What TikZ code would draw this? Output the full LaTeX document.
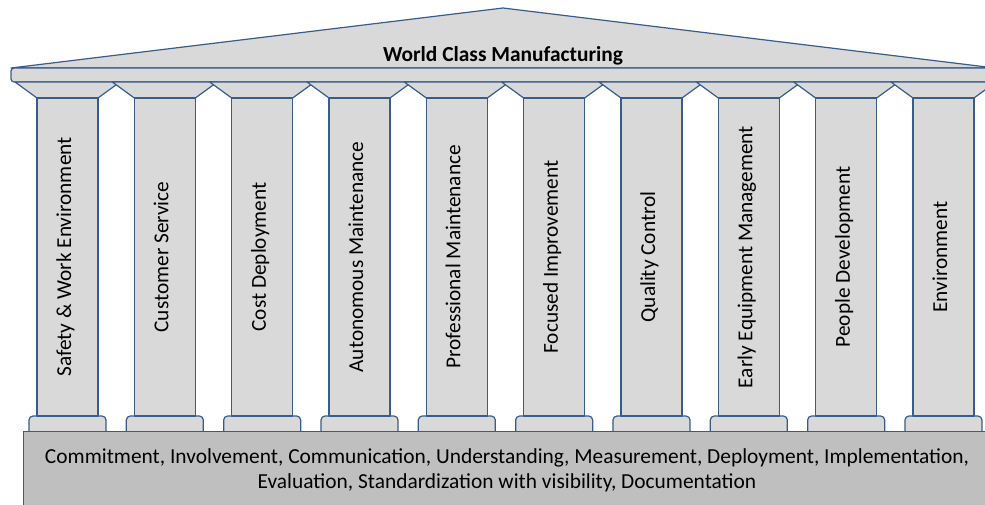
\documentclass[tikz,border=0pt]{standalone}
\usepackage{fontspec}
\setmainfont{Carlito}
\definecolor{edge}{RGB}{56,93,138}
\definecolor{lite}{RGB}{217,217,217}
\definecolor{dark}{RGB}{191,191,191}
\begin{document}
\begin{tikzpicture}[x=1pt,y=-1pt, line join=round,
  part/.style={draw=edge, fill=lite, line width=1.2pt},
  shaft/.style={part, rotate=90, minimum width=318pt, minimum height=61pt, inner sep=0pt,
    font=\fontsize{21.3}{24}\selectfont, text height=0.72em, text depth=0pt},
  plinth/.style={draw=edge, fill=dark, line width=1.2pt},
  basetext/.style={align=center, font=\fontsize{21.4}{25}\selectfont, inner sep=0pt}
  ]
\useasboundingbox (0,0) rectangle (985,504);
\clip (0,0) rectangle (985,504);
% roof
\path[part] (11,68) -- (503,8) -- (995,68) -- cycle;
\path[part, rounded corners=3pt] (11,68) rectangle (1000,82);
\node[font=\bfseries\fontsize{21.4}{24}\selectfont, anchor=base, inner sep=0pt] (title) at (503,61) {World Class Manufacturing};
% capitals
\foreach \i in {1,...,10}{
  \pgfmathsetmacro{\L}{37+(\i-1)*97.33}
  \path[part] (\L-22,82) -- (\L+83,82) -- (\L+61,98) -- (\L,98) -- cycle;
}
% bases
\foreach \i in {1,...,10}{
  \pgfmathsetmacro{\L}{37+(\i-1)*97.33}
  \path[part, rounded corners=4pt] (\L-8,416) rectangle (\L+69,445);
}
% platform
\node[plinth, minimum width=968pt, minimum height=90pt, anchor=north west, inner sep=0pt] (plat) at (23,431) {};
\node[basetext] (found) at (507,470) {Commitment, Involvement, Communication, Understanding, Measurement, Deployment, Implementation,\\Evaluation, Standardization with visibility, Documentation};
% shafts
\foreach \t [count=\i] in {Safety \& Work Environment, Customer Service, Cost Deployment, Autonomous Maintenance, Professional Maintenance, Focused Improvement, Quality Control, Early Equipment Management, People Development, Environment}{
  \pgfmathsetmacro{\C}{37+30.5+(\i-1)*97.33}
  \node[shaft] (s\i) at (\C,257) {\t};
}
\end{tikzpicture}
\end{document}
